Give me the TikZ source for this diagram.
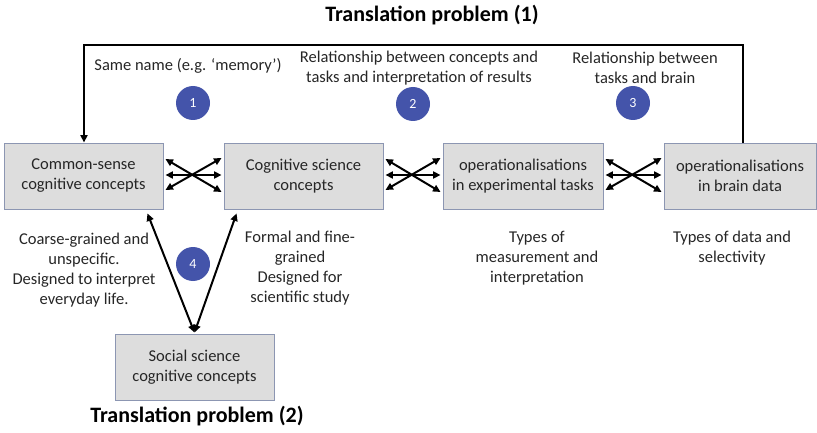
\documentclass[tikz,border=0pt]{standalone}
\usepackage{fontspec}
\setmainfont{Carlito}
\usetikzlibrary{arrows.meta}
\definecolor{boxfill}{RGB}{221,221,221}
\definecolor{boxline}{RGB}{140,150,178}
\definecolor{circblue}{RGB}{68,84,170}
\definecolor{txt}{RGB}{38,38,38}
\tikzset{
  conbox/.style={draw=boxline, line width=0.9pt, fill=boxfill, minimum height=66pt,
    align=center, font=\fontsize{16.5}{20}\selectfont, text=txt, inner sep=1pt},
  lbl/.style={align=center, font=\fontsize{16.5}{20}\selectfont, text=txt},
  ttl/.style={font=\bfseries\fontsize{22}{26}\selectfont, text=black},
  numc/.style={circle, fill=circblue, minimum size=34pt, inner sep=0pt,
    text=white, font=\fontsize{14}{16}\selectfont},
  dbl/.style={{Triangle[width=7pt,length=7.5pt]}-{Triangle[width=7pt,length=7.5pt]}, line width=2pt},
  fb/.style={line width=2pt, -{Triangle[width=7pt,length=7.5pt]}}
}
\begin{document}
\begin{tikzpicture}[x=1pt,y=-1pt]
\useasboundingbox (0,0) rectangle (817,433);

% boxes
\node[conbox, minimum width=159pt] (b1) at (83.5,176) {Common-sense\\cognitive concepts};
\node[conbox, minimum width=159pt] (b2) at (303.5,176) {Cognitive science\\concepts};
\node[conbox, minimum width=160pt] (b3) at (523,176) {operationalisations\\in experimental tasks};
\node[conbox, minimum width=152pt] (b4) at (740,176) {operationalisations\\in brain data};
\node[conbox, minimum width=159pt] (b5) at (194.5,367) {Social science\\cognitive concepts};

% titles
\node[ttl] (t1) at (432,15) {Translation problem (1)};
\node[ttl] (t2) at (197,416) {Translation problem (2)};

% feedback line
\coordinate (tr) at (743,45);
\coordinate (tl) at (84,45);
\draw[fb] (b4.north -| tr) -- (tr) -- (tl) -- (tl |- b1.north);

% labels
\node[lbl] (l1) at (188,66) {Same name (e.g. ‘memory’)};
\node[lbl] (l2) at (419,68) {Relationship between concepts and\\tasks and interpretation of results};
\node[lbl] (l3) at (645,68) {Relationship between\\tasks and brain};
\node[lbl] (l4) at (84,270) {Coarse-grained and\\unspecific.\\Designed to interpret\\everyday life.};
\node[lbl] (l5) at (300,268) {Formal and fine-\\grained\\Designed for\\scientific study};
\node[lbl] (l6) at (537,258) {Types of\\measurement and\\interpretation};
\node[lbl] (l7) at (732,248) {Types of data and\\selectivity};

% numbered circles
\node[numc] (c1) at (193,103) {1};
\node[numc] (c2) at (413,104) {2};
\node[numc] (c3) at (633,103) {3};
\node[numc] (c4) at (193,264) {4};

% crossed arrows between boxes
\foreach \a/\b in {b1/b2, b2/b3, b3/b4} {
  \draw[dbl] ([xshift=2pt,yshift=1pt]\a.east) -- ([xshift=-2pt,yshift=1pt]\b.west);
  \draw[dbl] ([xshift=2pt,yshift=17pt]\a.east) -- ([xshift=-2pt,yshift=-16pt]\b.west);
  \draw[dbl] ([xshift=2pt,yshift=-14pt]\a.east) -- ([xshift=-2pt,yshift=18pt]\b.west);
}

% V arrows
\draw[dbl] ([yshift=1pt]b5.north) -- ([xshift=-16pt,yshift=-4pt]b1.south east);
\draw[dbl] ([yshift=1pt]b5.north) -- ([xshift=13pt,yshift=-4pt]b2.south west);
\end{tikzpicture}
\end{document}
